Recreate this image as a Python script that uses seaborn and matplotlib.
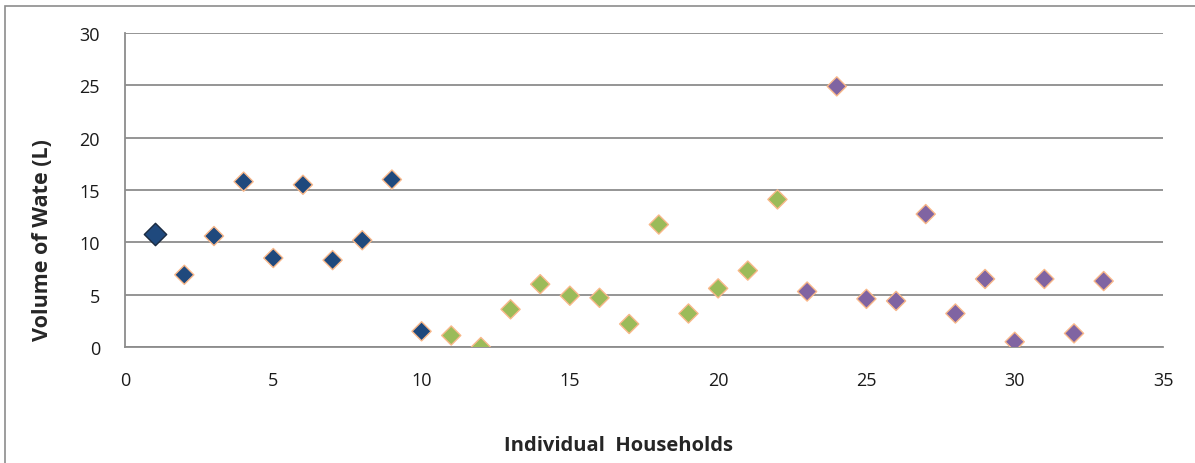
import pandas as pd
import seaborn as sns
import matplotlib
matplotlib.use("Agg")
import matplotlib.pyplot as plt
from matplotlib.patches import Rectangle

# Data
households = list(range(1, 34))
volume = [10.8, 6.9, 10.6, 15.8, 8.5, 15.5, 8.3, 10.2, 16.0, 1.5,
          1.1, 0.0, 3.6, 6.0, 4.9, 4.7, 2.2, 11.7, 3.2, 5.6, 7.3, 14.1,
          5.3, 24.9, 4.6, 4.4, 12.7, 3.2, 6.5, 0.5, 6.5, 1.3, 6.3]
group = ["A"] * 10 + ["B"] * 12 + ["C"] * 11
colors = {"A": "#1F497D", "B": "#9BBB59", "C": "#8064A2"}

df = pd.DataFrame({"Household": households, "Volume": volume, "Group": group})

sns.set_style("white")
plt.rcParams['font.family'] = ['Open Sans', 'DejaVu Sans']

fig = plt.figure(figsize=(11.95, 4.64), dpi=100)
ax = fig.add_axes([125 / 1195, 1 - 348 / 464, (1163 - 125) / 1195, (348 - 34) / 464])

# outer chart frame
fig.patches.append(Rectangle((5 / 1195, -0.1), 1.2, 1 - 7 / 464 + 0.1, transform=fig.transFigure,
                             fill=False, edgecolor="#8c8c8c", linewidth=1.2))

sns.scatterplot(data=df.iloc[1:], x="Household", y="Volume", hue="Group", palette=colors,
                marker="D", s=95, edgecolor="#F9B88A", linewidth=1.0, legend=False, ax=ax, zorder=3)
# first point is drawn slightly bigger with a dark outline
sns.scatterplot(data=df.iloc[:1], x="Household", y="Volume", color=colors["A"],
                marker="D", s=130, edgecolor="#1a2a40", linewidth=1.0, legend=False, ax=ax, zorder=3)

ax.set_xlim(0, 35)
ax.set_ylim(0, 30)
ax.set_xticks(range(0, 36, 5))
ax.set_yticks(range(0, 31, 5))
ax.yaxis.grid(True, color="#8c8c8c", linewidth=1.3)
ax.set_axisbelow(True)
for side in ["top", "right"]:
    ax.spines[side].set_visible(False)
for side in ["left", "bottom"]:
    ax.spines[side].set_color("#8c8c8c")
    ax.spines[side].set_linewidth(1.3)
ax.tick_params(axis="both", which="both", direction="out", length=8, width=1.3, color="#8c8c8c",
               labelsize=13, labelcolor="#1a1a1a")
ax.tick_params(axis="x", pad=9)
ax.tick_params(axis="y", pad=10)

ax.set_xlabel("Individual  Households", fontsize=14.5, fontweight="bold")
ax.set_ylabel("Volume of Wate (L)", fontsize=15.5, fontweight="bold")
ax.xaxis.set_label_coords(0.475, -0.28)
ax.yaxis.set_label_coords(-0.069, 0.344)

fig.savefig("out.png", dpi=100)
